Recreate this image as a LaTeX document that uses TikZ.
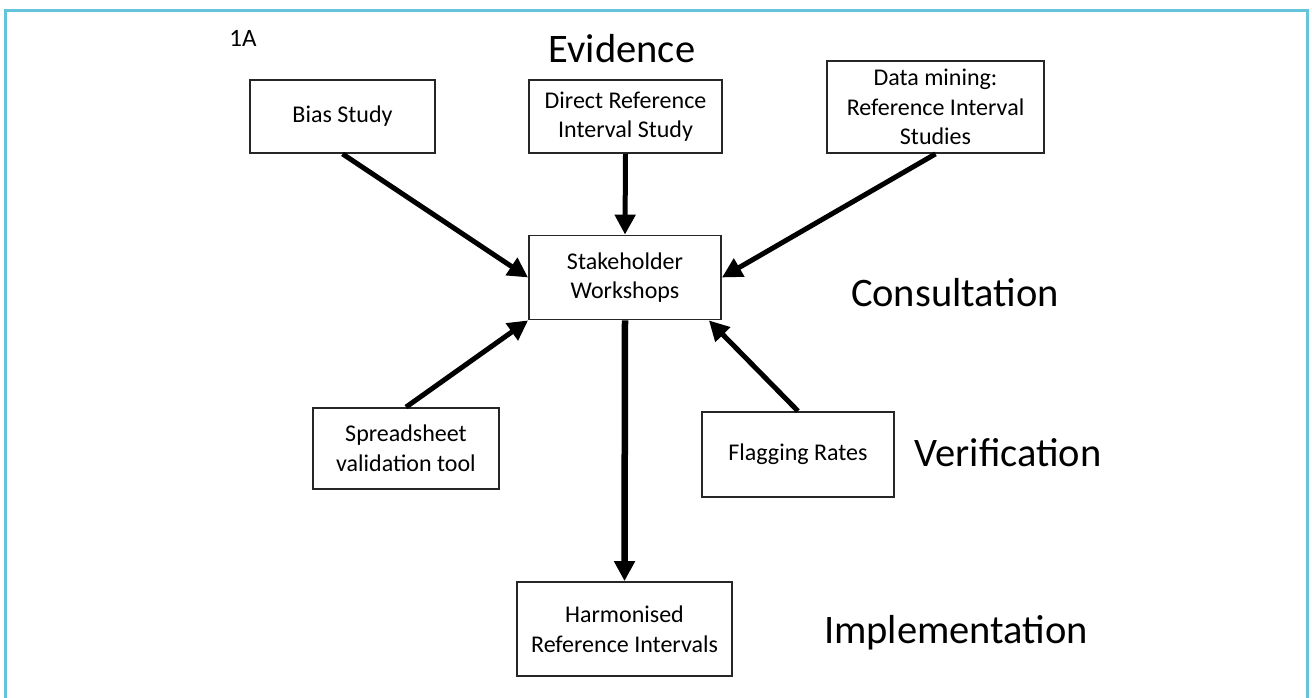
\documentclass[tikz,border=0pt]{standalone}
\usepackage{fontspec}
\setmainfont{Carlito}
\usetikzlibrary{arrows.meta,calc}
\definecolor{frameblue}{RGB}{100,196,218}
\begin{document}
\begin{tikzpicture}[x=1pt,y=-1pt,
  box/.style={draw=black!85,line width=1.8pt,inner sep=0pt,align=center,
    font=\fontsize{24}{29.5}\selectfont},
  lab/.style={anchor=base,inner sep=0pt,font=\fontsize{40.5}{48}\selectfont},
  arr/.style={line width=5pt,-{Triangle[length=20pt,width=20pt]}}]
\useasboundingbox (0,0) rectangle (1312,698);
\fill[white] (0,0) rectangle (1312,698);
% frame
\draw[frameblue,line width=3pt] (5,700) -- (5,11) -- (1307,11) -- (1307,700);
% labels
\node[anchor=base,inner sep=0pt,font=\fontsize{25}{30}\selectfont] (oneA) at (243,47) {1A};
\node[lab] (evid) at (622,63) {Evidence};
\node[lab] (cons) at (955,306) {Consultation};
\node[lab] (verif) at (1008,466) {Verification};
\node[lab] (impl) at (956,643) {Implementation};
% boxes
\node[box,minimum width=185pt,minimum height=73pt] (bias) at (342.5,116.5) {Bias Study};
\node[box,minimum width=193pt,minimum height=73pt] (direct) at (625.5,116.5) {Direct Reference\\Interval Study};
\node[box,minimum width=217pt,minimum height=92pt] (mining) at (935.5,107) {Data mining:\\Reference Interval\\Studies};
\node[box,minimum width=192pt,minimum height=84pt] (stake) at (625,277.5) {Stakeholder\\Workshops};
\node[box,minimum width=186pt,minimum height=81pt] (spread) at (406,448.5) {Spreadsheet\\validation tool};
\node[box,minimum width=192pt,minimum height=85pt] (flag) at (798,454.5) {Flagging Rates};
\node[box,minimum width=215pt,minimum height=94pt] (harm) at (624.5,629) {Harmonised\\Reference Intervals};
\coordinate (flagend) at ($(stake.south east)+(-13,0)$);
% arrows
\draw[arr] (bias.south) -- (stake.west);
\draw[arr] (direct.south) -- (stake.north);
\draw[arr] (mining.south) -- (stake.east);
\draw[arr] (spread.north) -- (stake.south west);
\draw[arr] (flag.north) -- (flagend);
\draw[arr,line width=6.5pt] (stake.south) -- (harm.north);
\end{tikzpicture}
\end{document}
